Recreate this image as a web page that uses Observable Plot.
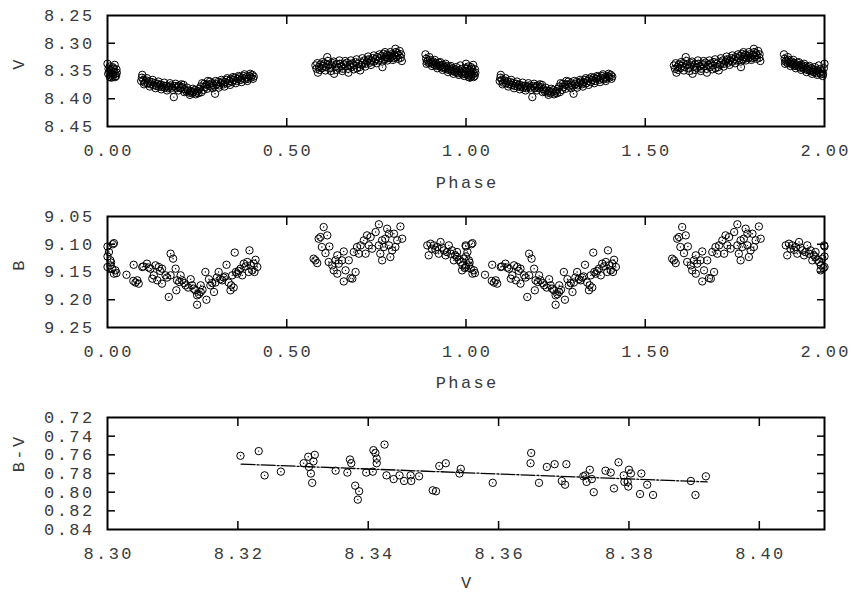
<!DOCTYPE html>
<html><head><meta charset="utf-8">
<script src="https://cdn.jsdelivr.net/npm/d3@7"></script>
<script src="https://cdn.jsdelivr.net/npm/@observablehq/plot@0.6"></script>
<style>
body{margin:0;background:#fff}
#chart svg{display:block}
#chart svg text{letter-spacing:2.4px}
</style></head><body><div id="chart"></div>
<script>
// ---- tick labels ----
const phaseTicks = [0, 0.5, 1, 1.5, 2];
const phaseInner = [0.5, 1, 1.5];
const vTicks = [8.25, 8.30, 8.35, 8.40, 8.45];
const vInner = [8.30, 8.35, 8.40];
const bTicks = [9.05, 9.10, 9.15, 9.20, 9.25];
const bInner = [9.10, 9.15, 9.20];
const bvTicks = [0.72, 0.74, 0.76, 0.78, 0.80, 0.82, 0.84];
const bvInner = [0.74, 0.76, 0.78, 0.80, 0.82];
const cmdTicks = [8.30, 8.32, 8.34, 8.36, 8.38, 8.40];
const cmdInner = [8.32, 8.34, 8.36, 8.38, 8.40];

// ---- V light curve (phase 0..1) ----
const vPhase = [
0.000,0.003,0.005,0.008,0.010,0.012,0.014,0.016,0.018,0.020,0.022,0.024,0.026,0.007,0.015,
0.002,0.006,0.011,0.017,0.021,0.025,
0.094,0.097,0.100,0.104,0.108,0.112,0.116,0.120,0.124,0.128,0.132,0.136,0.140,0.144,0.148,0.152,0.156,0.160,0.164,0.168,0.172,0.176,0.180,0.185,0.188,0.192,0.196,0.200,0.204,0.208,0.212,0.216,0.220,0.224,0.228,0.232,0.236,0.240,0.244,0.248,0.252,0.256,0.260,0.264,0.268,0.272,0.276,0.280,0.284,0.288,0.292,0.296,0.300,0.304,0.308,0.312,0.316,0.320,0.324,0.328,0.332,0.336,0.340,0.344,0.348,0.352,0.356,0.360,0.364,0.368,0.372,0.376,0.380,0.384,0.388,0.392,0.396,0.400,0.404,0.408,
0.096,0.102,0.110,0.118,0.126,0.134,0.142,0.150,0.158,0.166,0.174,0.182,0.190,0.198,0.206,0.214,0.222,0.230,0.238,0.246,0.254,0.262,0.270,0.278,0.286,0.294,0.302,0.310,0.318,0.326,0.334,0.342,0.350,0.358,0.366,0.374,0.382,0.390,0.398,0.406,
0.580,0.583,0.587,0.590,0.594,0.598,0.602,0.606,0.610,0.613,0.617,0.621,0.625,0.629,0.632,0.636,0.640,0.644,0.648,0.652,0.656,0.660,0.664,0.668,0.672,0.676,0.680,0.684,0.688,0.692,0.696,0.700,0.705,0.708,0.712,0.716,0.720,0.724,0.728,0.732,0.736,0.740,0.744,0.748,0.752,0.756,0.760,0.764,0.767,0.770,0.773,0.776,0.779,0.782,0.785,0.788,0.791,0.794,0.797,0.800,0.803,0.806,0.809,0.812,0.815,0.818,0.821,
0.585,0.592,0.600,0.608,0.615,0.623,0.631,0.639,0.647,0.655,0.663,0.671,0.679,0.687,0.695,0.703,0.711,0.719,0.727,0.735,0.743,0.751,0.759,0.766,0.774,0.781,0.789,0.796,0.804,0.811,0.819,
0.887,0.889,0.891,0.894,0.897,0.900,0.903,0.906,0.909,0.912,0.915,0.918,0.921,0.924,0.927,0.930,0.933,0.936,0.939,0.942,0.945,0.948,0.951,0.954,0.957,0.960,0.963,0.966,0.969,0.972,0.975,0.978,0.981,0.984,0.987,0.990,0.993,0.996,0.998,
0.890,0.898,0.905,0.913,0.920,0.928,0.935,0.943,0.950,0.958,0.965,0.973,0.980,0.988,0.995
];
const vMag = [
8.337,8.346,8.352,8.358,8.349,8.354,8.343,8.356,8.351,8.339,8.355,8.359,8.353,8.361,8.360,
8.355,8.342,8.362,8.346,8.361,8.347,
8.368,8.357,8.366,8.371,8.367,8.372,8.369,8.374,8.370,8.375,8.372,8.377,8.373,8.378,8.375,8.379,8.376,8.380,8.377,8.381,8.378,8.376,8.380,8.397,8.377,8.381,8.378,8.376,8.381,8.379,8.375,8.383,8.387,8.385,8.389,8.386,8.390,8.387,8.384,8.389,8.386,8.382,8.378,8.372,8.384,8.379,8.375,8.368,8.374,8.378,8.372,8.376,8.391,8.374,8.370,8.376,8.372,8.369,8.374,8.370,8.366,8.372,8.368,8.364,8.370,8.366,8.362,8.368,8.364,8.361,8.366,8.362,8.359,8.365,8.361,8.364,8.359,8.362,8.357,8.360,
8.362,8.374,8.363,8.378,8.366,8.381,8.369,8.383,8.371,8.385,8.372,8.384,8.373,8.385,8.374,8.388,8.380,8.393,8.382,8.392,8.390,8.388,8.373,8.382,8.369,8.381,8.368,8.380,8.366,8.378,8.363,8.375,8.361,8.372,8.359,8.370,8.356,8.368,8.355,8.364,
8.340,8.346,8.353,8.343,8.338,8.345,8.341,8.336,8.343,8.325,8.339,8.345,8.340,8.336,8.355,8.342,8.338,8.344,8.337,8.341,8.346,8.338,8.342,8.335,8.353,8.339,8.343,8.336,8.340,8.334,8.345,8.337,8.349,8.339,8.335,8.331,8.337,8.333,8.329,8.335,8.331,8.327,8.333,8.329,8.325,8.331,8.327,8.323,8.343,8.319,8.329,8.325,8.321,8.327,8.323,8.326,8.320,8.324,8.327,8.321,8.310,8.325,8.318,8.322,8.314,8.326,8.332,
8.336,8.348,8.334,8.349,8.332,8.350,8.333,8.348,8.331,8.350,8.332,8.346,8.331,8.347,8.329,8.343,8.327,8.342,8.324,8.339,8.322,8.336,8.320,8.333,8.316,8.331,8.316,8.330,8.316,8.328,8.320,
8.320,8.328,8.333,8.331,8.336,8.330,8.334,8.337,8.333,8.339,8.336,8.341,8.338,8.335,8.342,8.340,8.344,8.339,8.343,8.346,8.341,8.345,8.348,8.343,8.347,8.350,8.345,8.349,8.352,8.347,8.351,8.354,8.349,8.340,8.353,8.356,8.351,8.355,8.345,
8.337,8.325,8.341,8.330,8.345,8.334,8.348,8.337,8.352,8.341,8.355,8.343,8.357,8.347,8.359
];

// ---- B light curve (phase 0..1) ----
const bPhase = [
0.000,0.018,0.015,0.000,0.004,0.008,0.000,0.013,0.018,0.022,0.008,0.010,0.025,0.053,
0.073,0.072,0.078,0.087,0.083,0.097,0.110,0.120,0.125,0.134,0.143,0.152,0.129,0.139,0.152,0.162,0.176,0.183,0.171,0.192,0.190,0.204,0.176,0.194,0.208,0.218,0.232,0.236,0.245,0.250,0.250,0.260,0.260,0.273,0.276,0.283,0.287,0.297,0.301,0.310,0.315,0.324,0.332,0.338,0.345,0.348,0.355,0.362,0.371,0.380,0.390,0.396,0.404,0.408,0.413,0.418,0.394,0.376,0.343,0.352,
0.100,0.115,0.147,0.166,0.200,0.214,0.225,0.240,0.255,0.265,0.292,0.305,0.320,0.328,0.358,0.366,0.385,0.400,0.410,
0.580,0.585,0.575,0.594,0.603,0.613,0.589,0.598,0.619,0.608,0.617,0.627,0.641,0.636,0.645,0.631,0.641,0.659,0.654,0.664,0.659,0.673,0.683,0.692,0.678,0.687,0.696,0.706,0.701,0.715,0.720,0.724,0.729,0.738,0.734,0.748,0.757,0.757,0.761,0.766,0.771,0.775,0.780,0.785,0.789,0.794,0.799,0.803,0.817,0.822,0.808,0.785,0.766,
0.892,0.896,0.901,0.910,0.920,0.929,0.924,0.938,0.943,0.952,0.957,0.961,0.966,0.975,0.975,0.985,0.989,0.994,0.999,0.905,0.915,0.933,0.947,0.970,0.980,0.990,0.997
];
const bMag = [
9.104,9.098,9.100,9.122,9.114,9.129,9.141,9.144,9.153,9.147,9.138,9.133,9.152,9.155,
9.137,9.166,9.169,9.171,9.165,9.141,9.135,9.144,9.162,9.138,9.141,9.144,9.156,9.165,9.171,9.156,9.117,9.126,9.195,9.183,9.144,9.156,9.156,9.165,9.165,9.174,9.163,9.174,9.183,9.192,9.209,9.174,9.186,9.150,9.200,9.163,9.174,9.186,9.169,9.150,9.163,9.160,9.137,9.169,9.174,9.156,9.115,9.153,9.144,9.135,9.132,9.111,9.147,9.135,9.128,9.141,9.150,9.156,9.183,9.178,
9.140,9.142,9.148,9.160,9.168,9.170,9.178,9.180,9.190,9.182,9.170,9.160,9.165,9.158,9.150,9.148,9.140,9.138,9.150,
9.129,9.134,9.126,9.087,9.069,9.084,9.090,9.105,9.104,9.116,9.132,9.138,9.120,9.129,9.135,9.147,9.153,9.113,9.129,9.147,9.167,9.129,9.162,9.150,9.161,9.114,9.105,9.102,9.117,9.093,9.117,9.084,9.102,9.108,9.087,9.078,9.064,9.102,9.117,9.129,9.105,9.090,9.072,9.102,9.123,9.111,9.081,9.105,9.068,9.090,9.093,9.081,9.093,
9.102,9.120,9.099,9.102,9.105,9.096,9.117,9.111,9.120,9.102,9.117,9.111,9.129,9.123,9.114,9.132,9.147,9.126,9.102,9.108,9.110,9.106,9.114,9.120,9.128,9.138,9.143
];

// ---- B-V versus V ----
const cmdV = [
8.3204,8.3232,8.3241,8.3266,8.3301,8.3308,8.3318,8.3316,8.3309,8.3312,8.3314,8.3350,8.3368,8.3372,8.3374,8.3380,8.3386,8.3384,8.3397,8.3407,
8.3408,8.3411,8.3413,8.3413,8.3425,8.3428,8.3439,8.3448,8.3455,8.3465,8.3466,8.3478,8.3499,8.3504,8.3509,8.3519,8.3542,8.3540,8.3591,8.3650,
8.3649,8.3662,8.3674,8.3686,8.3704,8.3697,8.3702,8.3730,8.3733,8.3740,8.3735,8.3743,8.3746,8.3764,8.3772,8.3777,8.3784,8.3792,8.3800,8.3803,
8.3793,8.3798,8.3799,8.3819,8.3828,8.3817,8.3837,8.3895,8.3918,8.3902
];
const cmdBV = [
0.761,0.756,0.782,0.778,0.769,0.762,0.760,0.767,0.773,0.780,0.790,0.777,0.779,0.765,0.769,0.793,0.799,0.808,0.779,0.778,
0.755,0.758,0.764,0.769,0.749,0.782,0.786,0.782,0.788,0.782,0.788,0.783,0.798,0.799,0.772,0.769,0.775,0.780,0.790,0.758,
0.769,0.790,0.773,0.770,0.770,0.788,0.792,0.783,0.782,0.776,0.789,0.786,0.800,0.777,0.779,0.796,0.768,0.782,0.776,0.780,
0.789,0.789,0.794,0.780,0.792,0.802,0.803,0.788,0.783,0.803
];
const fitV = [8.3205, 8.392];
const fitBV = [0.770, 0.789];

function fold(phases, mags) {
  const out = [];
  for (let k = 0; k < 3; k++) {
    phases.forEach((p, i) => { const x = p + k; if (x <= 2.0) out.push({x, y: mags[i]}); });
  }
  return out;
}

const f2 = d3.format(".2f");
const font = {fontFamily: "'Liberation Mono', 'DejaVu Sans Mono', monospace", fontSize: "17px", color: "#3a3a3a", background: "#fff"};

function panel(o) {
  const dots = o.data;
  return Plot.plot({
    width: 851, height: o.height,
    marginLeft: 107, marginRight: 27, marginTop: o.marginTop, marginBottom: o.marginBottom,
    style: font,
    x: {domain: o.xDomain},
    y: {domain: o.yDomain, reverse: true},
    marks: [
      Plot.axisX(o.xTicks, {anchor: "bottom", tickSize: 0, tickPadding: 17, dx: 1.2, tickFormat: f2, label: null}),
      Plot.axisY(o.yTicks, {anchor: "left", tickSize: 0, tickPadding: 13, tickFormat: f2, label: null}),
      Plot.axisX(o.xInner, {anchor: "bottom", tickSize: 8, dy: -8, fill: "none", stroke: "#000", strokeWidth: 1.5, label: null}),
      Plot.axisX(o.xInner, {anchor: "top", tickSize: 8, dy: 8, fill: "none", stroke: "#000", strokeWidth: 1.5, label: null}),
      Plot.axisY(o.yInner, {anchor: "left", tickSize: 8, dx: 8, fill: "none", stroke: "#000", strokeWidth: 1.5, label: null}),
      Plot.axisY(o.yInner, {anchor: "right", tickSize: 8, dx: -8, fill: "none", stroke: "#000", strokeWidth: 1.5, label: null}),
      ...(o.extra || []),
      Plot.dot(dots, {x: "x", y: "y", r: 3.7, stroke: "#000", strokeWidth: 1, fill: "none"}),
      Plot.dot(dots, {x: "x", y: "y", r: 0.7, fill: "#000"}),
      Plot.frame({stroke: "#000", strokeWidth: 2}),
      Plot.text([o.xLabel], {frameAnchor: "bottom", dy: o.labelDy, dx: 1.2, text: d => d, lineAnchor: "middle"}),
      Plot.text([o.yLabel], {frameAnchor: "left", dx: -89, dy: -1.2, rotate: -90, text: d => d, lineAnchor: "middle"})
    ]
  });
}

const chart = document.getElementById("chart");
chart.append(panel({
  data: fold(vPhase, vMag), height: 200, marginTop: 15, marginBottom: 74, labelDy: 56,
  xDomain: [0, 2], yDomain: [8.25, 8.45], xTicks: phaseTicks, yTicks: vTicks,
  xInner: phaseInner, yInner: vInner, xLabel: "Phase", yLabel: "V"
}));
chart.append(panel({
  data: fold(bPhase, bMag), height: 200, marginTop: 16, marginBottom: 73, labelDy: 55,
  xDomain: [0, 2], yDomain: [9.05, 9.25], xTicks: phaseTicks, yTicks: bTicks,
  xInner: phaseInner, yInner: bInner, xLabel: "Phase", yLabel: "B"
}));
chart.append(panel({
  data: cmdV.map((v, i) => ({x: v, y: cmdBV[i]})), height: 192, marginTop: 17, marginBottom: 63, labelDy: 53,
  xDomain: [8.30, 8.41], yDomain: [0.72, 0.84], xTicks: cmdTicks, yTicks: bvTicks,
  xInner: cmdInner, yInner: bvInner, xLabel: "V", yLabel: "B-V",
  extra: [Plot.line(fitV.map((v, i) => ({x: v, y: fitBV[i]})), {x: "x", y: "y", stroke: "#000", strokeWidth: 1.3, strokeDasharray: "14,2,2,2"})]
}));
</script></body></html>
